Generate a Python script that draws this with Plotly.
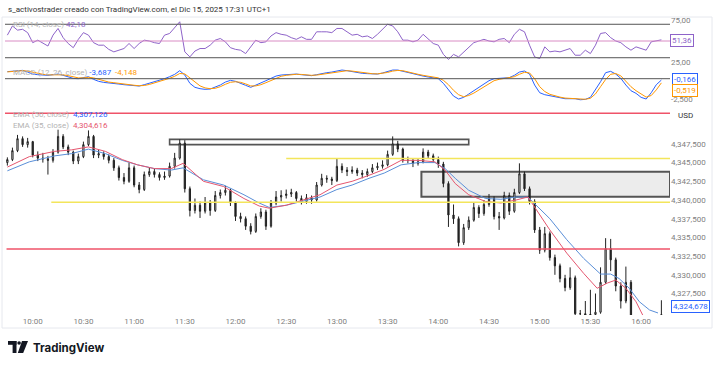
import plotly.graph_objects as go
import pandas as pd

DAY = "2025-12-15 "
START = DAY + "09:45"
N_BARS = 130
STEP = "3min"

open_ = [4345.0,4345.4,4346.6,4348.2,4347.4,4347.8,4346.0,4345.6,4345.5,4345.3,
         4346.4,4348.5,4347.1,4346.4,4345.2,4345.8,4347.4,4348.5,4346.0,4346.2,
         4345.8,4345.3,4344.3,4343.0,4342.5,4344.3,4342.0,4341.4,4343.4,4343.8,
         4343.4,4343.0,4343.2,4344.5,4345.6,4347.6,4341.5,4338.6,4339.3,4338.5,
         4339.6,4338.6,4340.6,4341.0,4341.3,4339.6,4337.8,4337.5,4336.5,4335.8,
         4337.8,4338.4,4336.5,4339.6,4340.4,4340.6,4340.8,4341.0,4340.2,4339.8,
         4340.3,4340.0,4342.0,4342.9,4342.8,4342.6,4344.5,4344.0,4343.8,4344.0,
         4343.6,4343.4,4343.8,4344.3,4344.5,4344.7,4346.1,4347.5,4346.8,4345.3,
         4345.3,4344.9,4345.1,4346.4,4345.9,4345.4,4344.8,4342.2,4338.0,4337.5,
         4334.3,4336.3,4337.3,4339.0,4338.2,4339.4,4340.2,4337.8,4337.6,4340.6,
         4338.5,4341.0,4343.5,4341.5,4339.8,4336.0,4333.3,4335.5,4332.3,4331.2,
         4329.5,4328.3,4329.6,4324.8,4324.8,4324.6,4324.7,4325.0,4329.0,4333.5,
         4332.0,4328.5,4326.5,4329.0,4324.3,4323.6,4323.2,4323.8,4323.4,4324.0]
high = [4345.7,4347.0,4348.7,4348.5,4348.3,4347.9,4346.5,4346.3,4345.9,4346.8,
        4349.4,4348.8,4347.4,4346.6,4346.2,4347.8,4349.3,4348.7,4346.7,4346.5,
        4346.1,4345.6,4344.6,4343.6,4345.0,4344.6,4342.4,4343.8,4344.4,4344.2,
        4343.7,4343.8,4345.0,4346.3,4348.1,4348.0,4341.8,4340.2,4339.8,4340.4,
        4340.0,4341.2,4341.4,4341.9,4341.5,4339.8,4338.3,4337.8,4336.9,4338.2,
        4338.9,4338.7,4340.0,4341.2,4341.3,4341.4,4341.5,4341.2,4340.6,4340.8,
        4340.6,4342.4,4343.5,4343.3,4343.1,4345.5,4344.9,4344.4,4344.5,4344.3,
        4344.0,4344.2,4344.8,4345.0,4345.3,4346.6,4348.5,4347.9,4347.0,4345.8,
        4345.6,4345.6,4346.9,4346.7,4346.2,4345.8,4345.1,4342.5,4339.4,4337.8,
        4336.8,4337.8,4339.6,4339.3,4340.0,4340.8,4340.5,4338.4,4341.1,4341.0,
        4341.5,4344.9,4343.8,4341.8,4340.1,4336.4,4336.4,4335.8,4332.7,4331.5,
        4330.0,4331.0,4329.9,4325.3,4326.5,4328.0,4327.5,4331.0,4334.9,4334.8,
        4332.3,4329.0,4331.1,4329.3,4324.4,4324.0,4324.2,4324.1,4324.3,4326.6]
low = [4344.6,4345.2,4346.4,4347.1,4347.0,4345.7,4345.2,4345.0,4343.4,4345.0,
       4346.2,4346.8,4346.0,4344.8,4344.8,4345.6,4347.2,4345.6,4345.6,4345.4,
       4344.9,4343.9,4342.6,4342.1,4342.3,4341.7,4340.9,4341.2,4343.1,4343.0,
       4342.6,4342.7,4343.0,4344.2,4345.4,4341.0,4337.8,4338.2,4337.6,4338.2,
       4337.9,4338.4,4340.2,4340.6,4339.2,4337.2,4337.0,4336.0,4335.4,4335.6,
       4337.5,4336.0,4336.3,4339.3,4339.8,4340.2,4340.4,4339.8,4339.4,4339.5,
       4339.5,4339.8,4341.8,4342.3,4342.0,4342.4,4343.6,4343.2,4343.5,4343.2,
       4342.9,4343.1,4343.6,4344.0,4344.2,4344.5,4345.9,4346.4,4345.0,4344.9,
       4344.4,4344.6,4344.9,4345.5,4345.0,4344.3,4341.7,4336.4,4336.8,4333.8,
       4334.0,4336.0,4337.1,4337.6,4337.9,4339.1,4337.4,4336.0,4337.4,4338.0,
       4338.3,4340.8,4341.2,4339.4,4335.6,4332.8,4333.0,4331.9,4330.0,4329.0,
       4327.8,4328.0,4324.2,4324.0,4324.0,4324.0,4324.1,4324.8,4328.8,4330.5,
       4327.8,4325.5,4326.2,4323.9,4323.2,4322.8,4323.0,4323.0,4323.2,4323.8]
close = [4345.4,4346.6,4348.2,4347.4,4347.8,4346.0,4345.6,4345.5,4345.3,4346.4,
         4348.5,4347.1,4346.4,4345.2,4345.8,4347.4,4348.5,4346.0,4346.2,4345.8,
         4345.3,4344.3,4343.0,4342.5,4344.3,4342.0,4341.4,4343.4,4343.8,4343.4,
         4343.0,4343.2,4344.5,4345.6,4347.6,4341.5,4338.6,4339.3,4338.5,4339.6,
         4338.6,4340.6,4341.0,4341.3,4339.6,4337.8,4337.5,4336.5,4335.8,4337.8,
         4338.4,4336.5,4339.6,4340.4,4340.6,4340.8,4341.0,4340.2,4339.8,4340.3,
         4340.0,4342.0,4342.9,4342.8,4342.6,4344.5,4344.0,4343.8,4344.0,4343.6,
         4343.4,4343.8,4344.3,4344.5,4344.7,4346.1,4347.5,4346.8,4345.3,4345.3,
         4344.9,4345.1,4346.4,4345.9,4345.4,4344.8,4342.2,4338.0,4337.5,4334.3,
         4336.3,4337.3,4339.0,4338.2,4339.4,4340.2,4337.8,4337.6,4340.6,4338.5,
         4341.0,4343.5,4341.5,4339.8,4336.0,4333.3,4335.5,4332.3,4331.2,4329.5,
         4328.3,4329.6,4324.8,4324.8,4324.6,4324.7,4325.0,4329.0,4333.5,4332.0,
         4328.5,4326.5,4329.0,4324.3,4323.6,4323.2,4323.8,4323.4,4324.0,4324.68]

ema50_t = ["09:45","09:58","10:13","10:23","10:33","10:43","10:53","11:02","11:12","11:22",
           "11:29","11:41","11:53","12:05","12:14","12:20","12:30","12:40","12:50","13:00",
           "13:09","13:19","13:28","13:38","13:48","13:58","14:04","14:10","14:18","14:28",
           "14:37","14:46","14:53","15:06","15:16","15:26","15:36","15:42","15:47","15:53",
           "15:59","16:05","16:10"]
ema50_v = [4343.9,4345.1,4345.9,4346.2,4346.8,4346.2,4345.3,4344.7,4344.2,4344.0,
           4344.3,4342.7,4342.0,4340.7,4339.6,4339.0,4339.3,4339.8,4340.4,4341.4,
           4342.0,4342.9,4343.6,4344.7,4345.0,4345.0,4344.2,4342.9,4341.3,4340.2,
           4340.1,4340.4,4340.4,4337.5,4334.7,4332.2,4330.1,4330.1,4329.5,4328.2,
           4326.4,4325.3,4324.9]
ema35_t = ["09:45","09:58","10:13","10:23","10:33","10:43","10:53","11:02","11:12","11:22",
           "11:29","11:41","11:53","12:05","12:14","12:20","12:30","12:40","12:50","13:00",
           "13:09","13:19","13:28","13:38","13:48","13:58","14:04","14:10","14:18","14:28",
           "14:37","14:46","14:53","15:06","15:16","15:26","15:34","15:40","15:45","15:51",
           "15:57","16:01","16:10"]
ema35_v = [4344.4,4345.8,4346.5,4346.7,4347.1,4346.5,4345.4,4344.7,4344.2,4344.2,
           4344.9,4342.5,4341.8,4340.2,4339.2,4338.9,4339.3,4340.0,4340.7,4342.0,
           4342.5,4343.3,4344.1,4345.3,4345.3,4345.1,4344.0,4342.2,4340.7,4339.8,
           4339.6,4340.0,4340.4,4336.0,4332.9,4330.2,4328.2,4328.9,4329.3,4328.2,
           4326.4,4324.6,4323.6]

rsi = [57,68,63,64,60,48,51,47,44,57, 65,54,47,42,52,60,57,48,45,45,
       40,37,39,41,47,41,47,51,50,48, 47,57,59,66,73,37,31,38,41,41,
       45,51,53,49,42,40,39,35,43,51, 48,49,56,60,58,57,54,52,55,52,
       52,61,61,61,60,65,65,61,57,58, 55,56,53,58,64,70,68,61,51,51,
       49,51,58,52,47,45,34,28,34,31, 37,43,48,50,52,50,49,52,53,48,
       58,64,61,45,31,29,43,37,38,37, 39,41,33,33,39,35,45,59,60,54,
       50,48,43,39,43,41,39,49,50,51.4]
macd = [0.88,0.96,1.04,1.04,0.83,0.58,0.50,0.46,0.42,0.50, 0.58,0.42,0.25,0.04,0.00,0.17,0.25,-0.08,-0.33,-0.46,
        -0.50,-0.58,-0.67,-0.75,-0.79,-0.92,-0.92,-0.75,-0.58,-0.42, -0.25,0.00,0.25,0.54,1.00,0.46,-0.58,-1.08,-1.25,-1.33,
        -1.29,-1.08,-0.79,-0.42,-0.21,-0.33,-0.54,-0.83,-1.08,-0.83, -0.58,-0.25,0.04,0.33,0.46,0.50,0.54,0.58,0.50,0.42,
        0.38,0.50,0.67,0.75,0.83,0.96,1.08,1.00,0.88,0.75, 0.67,0.63,0.58,0.58,0.71,0.92,1.08,1.08,0.92,0.75,
        0.58,0.42,0.33,0.21,0.13,0.00,-0.58,-1.33,-2.17,-2.54, -2.33,-1.92,-1.50,-1.08,-0.71,-0.25,0.00,0.04,0.00,0.13,
        0.42,0.83,0.96,0.58,-0.79,-1.75,-2.00,-2.13,-2.33,-2.46, -2.50,-2.50,-2.50,-2.63,-2.58,-2.33,-1.42,-0.38,0.75,0.92,
        0.58,0.04,-0.79,-1.50,-1.83,-2.33,-2.54,-1.75,-0.75,-0.17]
signal = [0.85,0.90,0.95,1.00,0.95,0.80,0.65,0.55,0.48,0.47, 0.50,0.48,0.38,0.22,0.10,0.10,0.17,0.10,-0.10,-0.30,
          -0.42,-0.50,-0.60,-0.68,-0.75,-0.82,-0.88,-0.85,-0.72,-0.55, -0.38,-0.18,0.05,0.30,0.65,0.60,0.10,-0.50,-0.90,-1.15,
          -1.25,-1.20,-1.00,-0.70,-0.45,-0.38,-0.45,-0.65,-0.90,-0.90, -0.75,-0.50,-0.20,0.10,0.30,0.42,0.50,0.55,0.53,0.47,
          0.42,0.45,0.55,0.65,0.75,0.85,0.98,1.00,0.95,0.85, 0.75,0.68,0.62,0.60,0.65,0.78,0.95,1.03,1.00,0.88,
          0.72,0.55,0.42,0.30,0.20,0.10,-0.20,-0.75,-1.45,-2.00, -2.25,-2.10,-1.80,-1.40,-1.00,-0.60,-0.25,-0.08,0.00,0.08,
          0.25,0.55,0.80,0.72,0.00,-1.00,-1.60,-1.95,-2.15,-2.30, -2.42,-2.48,-2.50,-2.55,-2.57,-2.45,-1.90,-1.00,-0.10,0.55,
          0.65,0.35,-0.30,-1.00,-1.50,-1.95,-2.30,-2.10,-1.40,-0.52]

price_ticks = [4327.5,4330.0,4332.5,4335.0,4337.5,4340.0,4342.5,4345.0,4347.5]
price_ticktext = ["4,327,500","4,330,000","4,332,500","4,335,000","4,337,500",
                  "4,340,000","4,342,500","4,345,000","4,347,500"]
time_ticks = ["10:00","10:30","11:00","11:30","12:00","12:30","13:00","13:30",
              "14:00","14:30","15:00","15:30","16:00"]

# drawing levels (horizontal lines / zones)
RED_TOP = 4351.6
RED_LOW = 4333.45
YEL_HI, YEL_HI_FROM = 4345.55, "12:30"
YEL_LO, YEL_LO_FROM = 4339.7, "10:11"
RES_BOX = ("11:21", "14:18", 4347.4, 4348.1)
ZONE_BOX = ("13:50", 4340.45, 4343.78)

times = pd.date_range(START, periods=N_BARS, freq=STEP)
X0, X1 = DAY + "09:43:36", DAY + "16:17:06"

W, H = 720, 365
ML, MR, MT, MB = 5, 50, 17, 50
PW, PH = W - ML - MR, H - MT - MB

def px(X):
    return (X - ML) / PW

def py(Y):
    return (H - MB - Y) / PH

BLUE = "#2962ff"
EMA_BLUE = "#5a8fd8"
EMA_RED = "#e5566f"
ORANGE = "#ff9800"
PURPLE = "#8e63c9"
REDLINE = "#ef5369"
YELLOW = "#f3e55b"
FONT = "Roboto"

fig = go.Figure()
fig.add_trace(go.Candlestick(
    x=times, open=open_, high=high, low=low, close=close,
    increasing=dict(line=dict(color="#222", width=1), fillcolor="#ffffff"),
    decreasing=dict(line=dict(color="#222", width=1), fillcolor="#222222"),
    whiskerwidth=0, xaxis="x", yaxis="y", showlegend=False))
fig.add_trace(go.Scatter(x=[DAY + t for t in ema50_t], y=ema50_v, mode="lines",
                         line=dict(color=EMA_BLUE, width=1), xaxis="x", yaxis="y", showlegend=False))
fig.add_trace(go.Scatter(x=[DAY + t for t in ema35_t], y=ema35_v, mode="lines",
                         line=dict(color=EMA_RED, width=1), xaxis="x", yaxis="y", showlegend=False))
fig.add_trace(go.Scatter(x=times, y=macd, mode="lines", line=dict(color=BLUE, width=1),
                         xaxis="x", yaxis="y2", showlegend=False))
fig.add_trace(go.Scatter(x=times, y=signal, mode="lines", line=dict(color=ORANGE, width=1),
                         xaxis="x", yaxis="y2", showlegend=False))
fig.add_trace(go.Scatter(x=times, y=rsi, mode="lines", line=dict(color=PURPLE, width=1),
                         xaxis="x", yaxis="y3", showlegend=False))

shapes = []
def hline(y, yref, color, width, x0=X0):
    shapes.append(dict(type="line", xref="x", yref=yref, x0=x0, x1=X1, y0=y, y1=y,
                       line=dict(color=color, width=width)))

# RSI bands
hline(70, "y3", "#555", 1)
hline(30, "y3", "#555", 1)
hline(50, "y3", "#d98cc4", 1)
# MACD zero
hline(0, "y2", "#555", 1)
# main drawings
shapes.append(dict(type="rect", xref="x", yref="y", x0=DAY + ZONE_BOX[0], x1=X1,
                   y0=ZONE_BOX[1], y1=ZONE_BOX[2], fillcolor="rgba(200,200,200,0.35)",
                   line=dict(color="#555", width=2), layer="below"))
shapes.append(dict(type="rect", xref="x", yref="y", x0=DAY + RES_BOX[0], x1=DAY + RES_BOX[1],
                   y0=RES_BOX[2], y1=RES_BOX[3], fillcolor="rgba(255,255,255,0.6)",
                   line=dict(color="#555", width=1.6), layer="below"))
hline(RED_TOP, "y", REDLINE, 1.5)
hline(RED_LOW, "y", REDLINE, 1.5, x0=DAY + "09:44:30")
hline(YEL_HI, "y", YELLOW, 1.5, x0=DAY + YEL_HI_FROM)
hline(YEL_LO, "y", YELLOW, 1.5, x0=DAY + YEL_LO_FROM)

# widget frame
shapes.append(dict(type="rect", xref="paper", yref="paper", x0=px(2), x1=px(712),
                   y0=py(328), y1=py(17), line=dict(color="#e6e8ee", width=1), layer="below"))

# TradingView logo mark
LOGO = "#131722"
shapes.append(dict(type="rect", xref="paper", yref="paper", x0=px(8), x1=px(16.5),
                   y0=py(344.8), y1=py(341), fillcolor=LOGO, line=dict(width=0)))
shapes.append(dict(type="rect", xref="paper", yref="paper", x0=px(12.6), x1=px(16.5),
                   y0=py(353), y1=py(341), fillcolor=LOGO, line=dict(width=0)))
shapes.append(dict(type="circle", xref="paper", yref="paper", x0=px(17.3), x1=px(20.9),
                   y0=py(344.8), y1=py(341.2), fillcolor=LOGO, line=dict(width=0)))
pts = [(22.0, 341), (28.0, 341), (23.2, 353), (17.8, 353)]
path = "M " + " L ".join(f"{px(a):.5f},{py(b):.5f}" for a, b in pts) + " Z"
shapes.append(dict(type="path", xref="paper", yref="paper", path=path,
                   fillcolor=LOGO, line=dict(width=0)))

anns = []
def ann(X, Y, text, color="#333", size=8, bg=None, border=None, xanchor="left"):
    d = dict(xref="paper", yref="paper", x=px(X), y=py(Y), text=text, showarrow=False,
             xanchor=xanchor, yanchor="middle",
             font=dict(family=FONT, size=size, color=color))
    if bg:
        d["bgcolor"] = bg
    if border:
        d["bordercolor"] = border
        d["borderwidth"] = 1
        d["borderpad"] = 1
    anns.append(d)

ann(6, 9, "s_activostrader creado con TradingView.com, el Dic 15, 2025 17:31 UTC+1", "#333", 8)
ann(11, 25, f"RSI (14, close) <span style='color:{PURPLE}'>42,18</span>", "#b3b3b3", 8)
ann(11, 72, f"MACD (12, 26, close) <span style='color:{BLUE}'>-3,687</span>  "
            f"<span style='color:{ORANGE}'>-4,148</span>", "#b3b3b3", 8)
ann(11, 115, f"EMA (50, close)  <span style='color:{BLUE}'>4,307,126</span>", "#b3b3b3", 8)
ann(11, 125, f"EMA (35, close)  <span style='color:{EMA_RED}'>4,304,616</span>", "#b3b3b3", 8)

ann(670, 40, "51,36", PURPLE, 8, bg="#ffffff", border=PURPLE)
ann(672, 79.5, "-0,166", BLUE, 8, bg="#ffffff", border=BLUE)
ann(672, 90.5, "-0,519", ORANGE, 8, bg="#ffffff", border=ORANGE)
ann(671, 306, "4,324,678", BLUE, 8, bg="#ffffff", border=BLUE)
ann(676, 115.5, "USD", "#333", 8, bg="#ffffff")
ann(31, 347.5, "<b>TradingView</b>", LOGO, 11.5)
anns[-1]["font"]["family"] = "Inter"

axis_font = dict(family=FONT, size=8, color="#808080")
fig.update_layout(
    width=W, height=H,
    margin=dict(l=ML, r=MR, t=MT, b=MB),
    paper_bgcolor="#ffffff", plot_bgcolor="#ffffff",
    showlegend=False, boxgap=0.65,
    xaxis=dict(type="date", range=[X0, X1], domain=[0, 1], anchor="y",
               rangeslider=dict(visible=False), showgrid=False, zeroline=False,
               tickvals=[DAY + t for t in time_ticks], tickformat="%H:%M",
               tickfont=axis_font, ticks="", showline=False),
    yaxis=dict(domain=[0, py(107)], range=[4324.63, 4352.43], side="right", anchor="x",
               showgrid=False, zeroline=False, tickvals=price_ticks, ticktext=price_ticktext,
               tickfont=axis_font, ticks="", showline=False),
    yaxis2=dict(domain=[py(106), py(65)], range=[-3.41, 1.71], side="right", anchor="x",
                showgrid=False, zeroline=False, tickvals=[-2.5], ticktext=["-2,500"],
                tickfont=axis_font, ticks="", showline=False),
    yaxis3=dict(domain=[py(64), 1.0], range=[22.5, 78.7], side="right", anchor="x",
                showgrid=False, zeroline=False, tickvals=[25, 75], ticktext=["25,00", "75,00"],
                tickfont=axis_font, ticks="", showline=False),
    shapes=shapes, annotations=anns,
)

fig.write_html("out.html", config={"displayModeBar": False},
               post_script="document.body.style.margin='0';document.body.style.overflow='hidden';")
